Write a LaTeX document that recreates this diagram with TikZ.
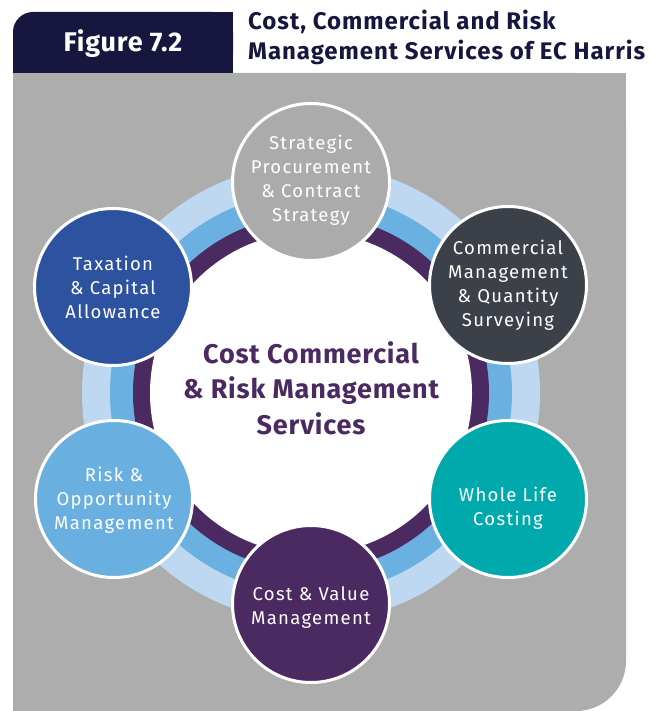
\documentclass[tikz,border=0pt]{standalone}
\usepackage{fontspec}
\setmainfont{Fira Sans}
\definecolor{panel}{HTML}{ADADAD}
\definecolor{navy}{HTML}{16163E}
\definecolor{ringlight}{HTML}{BED8F2}
\definecolor{ringmid}{HTML}{6AB1E1}
\definecolor{ringpurple}{HTML}{4B2A62}
\definecolor{cstrat}{HTML}{ABABAB}
\definecolor{ccomm}{HTML}{3C4149}
\definecolor{cwhole}{HTML}{00A9AC}
\definecolor{ccost}{HTML}{4B2A62}
\definecolor{crisk}{HTML}{69B0E0}
\definecolor{ctax}{HTML}{2D53A0}
\tikzset{
  svc/.style={circle, draw=white, line width=3pt, minimum size=157pt, inner sep=0pt},
  svctext/.style={text=white, align=center, inner sep=0pt,
    font=\fontsize{18.5}{24}\selectfont\addfontfeature{LetterSpace=7}},
  centertext/.style={text=ringpurple, align=center,
    font=\bfseries\fontsize{27}{35.5}\selectfont\addfontfeature{LetterSpace=3}},
}
\begin{document}
\begin{tikzpicture}[x=1pt,y=-1pt]
\useasboundingbox (0,0) rectangle (662,711);
% gray panel with rounded bottom-right corner
\fill[panel, rounded corners=50pt] (13,73) rectangle (626,711);
\fill[panel] (13,73) rectangle (576,711);
\fill[panel] (13,73) rectangle (626,661);
% header box with rounded top-left corner
\fill[navy, rounded corners=20pt] (13,12) rectangle (233,73);
\fill[navy] (13,40) rectangle (233,73);
\fill[navy] (120,12) rectangle (233,73);
\node[text=white, font=\bfseries\fontsize{27}{30}\selectfont\addfontfeature{LetterSpace=3}] (fig) at (123,44) {Figure 7.2};
\node[anchor=west, align=left, text=navy, inner sep=0pt,
  font=\bfseries\fontsize{24}{30}\selectfont\addfontfeature{LetterSpace=4}] (title) at (248,37)
  {Cost, Commercial and Risk\\Management Services of EC Harris};
% ring
\coordinate (c) at (311,393);
\fill[ringlight] (c) circle (229);
\fill[ringmid] (c) circle (201);
\fill[ringpurple] (c) circle (178);
\fill[white] (c) circle (161);
\node[centertext] (core) at (311,388) {Cost Commercial\\\& Risk Management\\Services};
% service circles
\node[svc, fill=cstrat] (strat) at (311,182) {};
\node[svc, fill=ccomm] (comm) at (508,285) {};
\node[svc, fill=cwhole] (whole) at (508,499) {};
\node[svc, fill=ccost] (cost) at (311,604) {};
\node[svc, fill=crisk] (risk) at (114,499) {};
\node[svc, fill=ctax] (tax) at (113,287) {};
% service labels
\node[svctext] (strat-t) at (311,180) {Strategic\\Procurement\\\& Contract\\Strategy};
\node[svctext] (comm-t) at (508,285) {Commercial\\Management\\\& Quantity\\Surveying};
\node[svctext] (whole-t) at (508,508) {Whole Life\\Costing};
\node[svctext] (cost-t) at (311,608) {Cost \& Value\\Management};
\node[svctext] (risk-t) at (114,500) {Risk \&\\Opportunity\\Management};
\node[svctext] (tax-t) at (113,287) {Taxation\\\& Capital\\Allowance};
\end{tikzpicture}
\end{document}
